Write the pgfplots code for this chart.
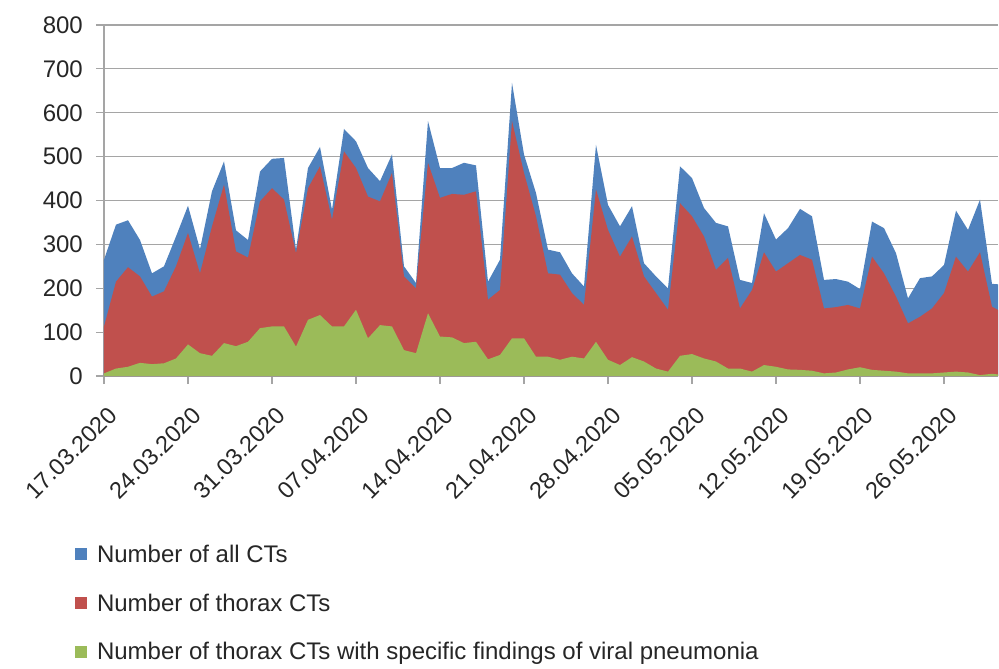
\documentclass[border=0pt]{standalone}
\usepackage{pgfplots}
\pgfplotsset{compat=1.18}
\usepackage{pgfplotstable}
\usepackage{fontspec}
\setmainfont{Liberation Sans}
\definecolor{cblue}{RGB}{79,129,189}
\definecolor{cred}{RGB}{192,80,77}
\definecolor{cgreen}{RGB}{155,187,89}
\definecolor{cgrid}{RGB}{165,165,165}
\pgfplotstableread{
d all thorax viral
0 265 113 6
1 345 215 17
2 355 248 21
3 310 227 30
4 234 181 27
5 250 193 29
6 318 250 40
7 388 326 72
8 289 234 52
9 421 341 46
10 489 436 75
11 332 284 68
12 310 270 78
13 466 398 109
14 495 428 113
15 497 402 113
16 288 280 67
17 474 428 128
18 522 478 139
19 379 356 113
20 563 512 113
21 535 474 151
22 474 409 86
23 444 398 116
24 505 463 113
25 250 227 59
26 212 200 52
27 581 486 143
28 474 406 90
29 474 415 88
30 486 413 75
31 480 421 78
32 215 174 38
33 265 196 48
34 668 581 86
35 505 463 86
36 417 364 44
37 288 234 44
38 282 231 37
39 234 189 44
40 204 162 40
41 527 425 78
42 390 333 37
43 341 272 25
44 387 318 43
45 257 227 33
46 227 189 17
47 200 151 10
48 478 394 46
49 451 364 50
50 383 318 40
51 349 242 33
52 341 269 17
53 219 154 17
54 212 196 10
55 371 282 25
56 311 238 21
57 337 257 15
58 381 276 14
59 364 265 12
60 219 154 6
61 221 157 8
62 215 162 15
63 198 154 20
64 352 272 14
65 337 234 12
66 280 181 10
67 177 120 6
68 223 135 6
69 227 154 6
70 253 189 8
71 377 272 10
72 333 238 8
73 402 282 2
74 210 158 5
75 208 143 2
}\datatable
\begin{document}
\begin{tikzpicture}
\useasboundingbox (-104pt,-293pt) rectangle (895pt,376pt);
\begin{axis}[
  at={(0,0)}, anchor=south west,
  scale only axis,
  width=894pt, height=351pt,
  xmin=0, xmax=74.5,
  ymin=0, ymax=800,
  axis x line*=bottom, axis y line*=left,
  axis line style={cgrid, line width=1.2pt},
  ytick={0,100,...,800},
  xtick={0,7,...,70},
  xticklabels={17.03.2020,24.03.2020,31.03.2020,07.04.2020,14.04.2020,21.04.2020,28.04.2020,05.05.2020,12.05.2020,19.05.2020,26.05.2020},
  tick align=outside,
  major tick length=8pt,
  tick style={cgrid, line width=1.2pt},
  ymajorgrids,
  grid style={cgrid, line width=1.2pt},
  /pgf/number format/assume math mode=true,
  ticklabel style={font=\fontsize{24}{28}\selectfont, text=black!85},
  xticklabel style={rotate=45, anchor=north east, inner sep=2pt, xshift=-11pt, yshift=-15pt, font=\fontsize{23.5}{28}\selectfont},
  yticklabel style={inner sep=4pt, xshift=-9pt},
  legend style={at={(-0.036,-0.469)}, anchor=north west, draw=none, fill=none,
    font=\fontsize{24}{28}\selectfont, text=black!85, row sep=26pt, column sep=8pt},
  legend cell align=left,
  legend image code/.code={\fill[#1] (0pt,-6pt) rectangle (12pt,6pt);},
]
\addplot[fill=cblue, draw=none] table[x=d, y=all] {\datatable} \closedcycle;
\addlegendentry{Number of all CTs}
\addplot[fill=cred, draw=none] table[x=d, y=thorax] {\datatable} \closedcycle;
\addlegendentry{Number of thorax CTs}
\addplot[fill=cgreen, draw=none] table[x=d, y=viral] {\datatable} \closedcycle;
\addlegendentry{Number of thorax CTs with specific findings of viral pneumonia}
\end{axis}
\end{tikzpicture}
\end{document}
